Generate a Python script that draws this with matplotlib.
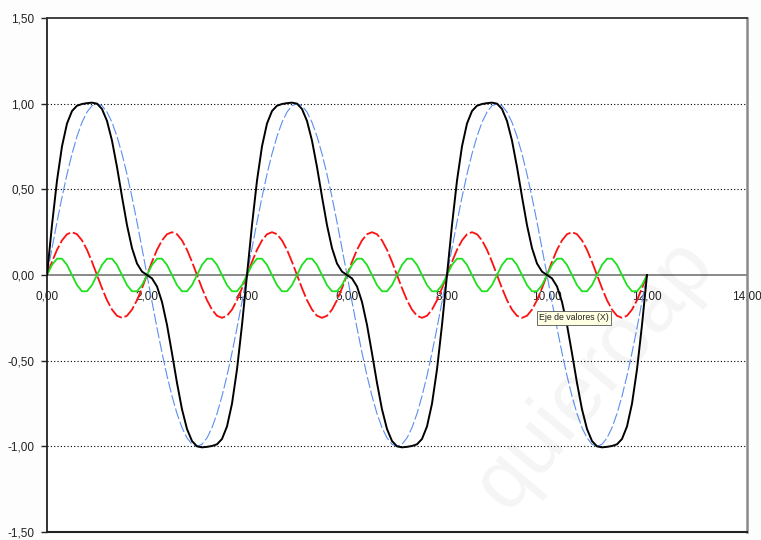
import numpy as np
import matplotlib
matplotlib.use("Agg")
import matplotlib.pyplot as plt

plt.rcParams["font.family"] = ["Liberation Sans", "DejaVu Sans"]

# Sample positions on the value axis (X), step 0,1
x_vals = np.linspace(0, 12, 121)

# Series, one row per unit of X
blue_vals = [
    0.000, 0.156, 0.309, 0.454, 0.588, 0.707, 0.809, 0.891, 0.951, 0.988,
    1.000, 0.988, 0.951, 0.891, 0.809, 0.707, 0.588, 0.454, 0.309, 0.156,
    0.000, -0.156, -0.309, -0.454, -0.588, -0.707, -0.809, -0.891, -0.951, -0.988,
    -1.000, -0.988, -0.951, -0.891, -0.809, -0.707, -0.588, -0.454, -0.309, -0.156,
    0.000, 0.156, 0.309, 0.454, 0.588, 0.707, 0.809, 0.891, 0.951, 0.988,
    1.000, 0.988, 0.951, 0.891, 0.809, 0.707, 0.588, 0.454, 0.309, 0.156,
    0.000, -0.156, -0.309, -0.454, -0.588, -0.707, -0.809, -0.891, -0.951, -0.988,
    -1.000, -0.988, -0.951, -0.891, -0.809, -0.707, -0.588, -0.454, -0.309, -0.156,
    0.000, 0.156, 0.309, 0.454, 0.588, 0.707, 0.809, 0.891, 0.951, 0.988,
    1.000, 0.988, 0.951, 0.891, 0.809, 0.707, 0.588, 0.454, 0.309, 0.156,
    0.000, -0.156, -0.309, -0.454, -0.588, -0.707, -0.809, -0.891, -0.951, -0.988,
    -1.000, -0.988, -0.951, -0.891, -0.809, -0.707, -0.588, -0.454, -0.309, -0.156,
    0.000,
]

red_vals = [
    0.000, 0.077, 0.147, 0.202, 0.238, 0.250, 0.238, 0.202, 0.147, 0.077,
    0.000, -0.077, -0.147, -0.202, -0.238, -0.250, -0.238, -0.202, -0.147, -0.077,
    0.000, 0.077, 0.147, 0.202, 0.238, 0.250, 0.238, 0.202, 0.147, 0.077,
    0.000, -0.077, -0.147, -0.202, -0.238, -0.250, -0.238, -0.202, -0.147, -0.077,
    0.000, 0.077, 0.147, 0.202, 0.238, 0.250, 0.238, 0.202, 0.147, 0.077,
    0.000, -0.077, -0.147, -0.202, -0.238, -0.250, -0.238, -0.202, -0.147, -0.077,
    0.000, 0.077, 0.147, 0.202, 0.238, 0.250, 0.238, 0.202, 0.147, 0.077,
    0.000, -0.077, -0.147, -0.202, -0.238, -0.250, -0.238, -0.202, -0.147, -0.077,
    0.000, 0.077, 0.147, 0.202, 0.238, 0.250, 0.238, 0.202, 0.147, 0.077,
    0.000, -0.077, -0.147, -0.202, -0.238, -0.250, -0.238, -0.202, -0.147, -0.077,
    0.000, 0.077, 0.147, 0.202, 0.238, 0.250, 0.238, 0.202, 0.147, 0.077,
    0.000, -0.077, -0.147, -0.202, -0.238, -0.250, -0.238, -0.202, -0.147, -0.077,
    0.000,
]

green_vals = [
    0.000, 0.059, 0.095, 0.095, 0.059, 0.000, -0.059, -0.095, -0.095, -0.059,
    0.000, 0.059, 0.095, 0.095, 0.059, 0.000, -0.059, -0.095, -0.095, -0.059,
    0.000, 0.059, 0.095, 0.095, 0.059, 0.000, -0.059, -0.095, -0.095, -0.059,
    0.000, 0.059, 0.095, 0.095, 0.059, 0.000, -0.059, -0.095, -0.095, -0.059,
    0.000, 0.059, 0.095, 0.095, 0.059, 0.000, -0.059, -0.095, -0.095, -0.059,
    0.000, 0.059, 0.095, 0.095, 0.059, 0.000, -0.059, -0.095, -0.095, -0.059,
    0.000, 0.059, 0.095, 0.095, 0.059, 0.000, -0.059, -0.095, -0.095, -0.059,
    0.000, 0.059, 0.095, 0.095, 0.059, 0.000, -0.059, -0.095, -0.095, -0.059,
    0.000, 0.059, 0.095, 0.095, 0.059, 0.000, -0.059, -0.095, -0.095, -0.059,
    0.000, 0.059, 0.095, 0.095, 0.059, 0.000, -0.059, -0.095, -0.095, -0.059,
    0.000, 0.059, 0.095, 0.095, 0.059, 0.000, -0.059, -0.095, -0.095, -0.059,
    0.000, 0.059, 0.095, 0.095, 0.059, 0.000, -0.059, -0.095, -0.095, -0.059,
    0.000,
]

black_vals = [
    0.000, 0.292, 0.551, 0.751, 0.884, 0.957, 0.988, 0.998, 1.003, 1.006,
    1.000, 0.969, 0.899, 0.784, 0.630, 0.457, 0.291, 0.157, 0.067, 0.020,
    0.000, -0.020, -0.067, -0.157, -0.291, -0.457, -0.630, -0.784, -0.899, -0.969,
    -1.000, -1.006, -1.003, -0.998, -0.988, -0.957, -0.884, -0.751, -0.551, -0.292,
    0.000, 0.292, 0.551, 0.751, 0.884, 0.957, 0.988, 0.998, 1.003, 1.006,
    1.000, 0.969, 0.899, 0.784, 0.630, 0.457, 0.291, 0.157, 0.067, 0.020,
    0.000, -0.020, -0.067, -0.157, -0.291, -0.457, -0.630, -0.784, -0.899, -0.969,
    -1.000, -1.006, -1.003, -0.998, -0.988, -0.957, -0.884, -0.751, -0.551, -0.292,
    0.000, 0.292, 0.551, 0.751, 0.884, 0.957, 0.988, 0.998, 1.003, 1.006,
    1.000, 0.969, 0.899, 0.784, 0.630, 0.457, 0.291, 0.157, 0.067, 0.020,
    0.000, -0.020, -0.067, -0.157, -0.291, -0.457, -0.630, -0.784, -0.899, -0.969,
    -1.000, -1.006, -1.003, -0.998, -0.988, -0.957, -0.884, -0.751, -0.551, -0.292,
    0.000,
]

x_ticks = [0, 2, 4, 6, 8, 10, 12, 14]
y_ticks = [-1.5, -1.0, -0.5, 0.0, 0.5, 1.0, 1.5]
grid_levels = [-1.0, -0.5, 0.5, 1.0]

fig = plt.figure(figsize=(7.61, 5.40), dpi=100, facecolor="#fdfdfd")
ax = fig.add_axes([47 / 761, 1 - 532 / 540, 700 / 761, 514 / 540])
ax.set_facecolor("white")

# dotted gridlines
for g in grid_levels:
    ax.axhline(g, color="black", lw=0.8, ls=(0, (1, 2)), zorder=1)

# series
ax.plot(x_vals, blue_vals, color="#5b8ef0", lw=0.8, ls=(0, (10, 2.5)), zorder=3)
ax.plot(x_vals, red_vals, color="#ff1010", lw=1.3, ls=(0, (8, 1.6)), zorder=3)
ax.plot(x_vals, green_vals, color="#1ee01e", lw=1.3, zorder=3)
ax.plot(x_vals, black_vals, color="black", lw=1.4, zorder=4)

ax.set_xlim(0, 14)
ax.set_ylim(-1.5, 1.5)

# x axis crosses at y = 0
ax.spines["bottom"].set_position(("data", 0))
ax.spines["bottom"].set_color("#808080")
ax.spines["bottom"].set_linewidth(1.3)
ax.spines["bottom"].set_zorder(2)
ax.axhline(-1.5, color="#222222", lw=1.5, clip_on=False, zorder=5)
ax.spines["left"].set_color("#222222")
ax.spines["left"].set_linewidth(1.3)
ax.spines["top"].set_color("#333333")
ax.spines["top"].set_linewidth(1.3)
ax.spines["right"].set_color("#8a8a8a")
ax.spines["right"].set_linewidth(1.8)

ax.set_xticks(x_ticks)
ax.set_xticklabels([f"{v:.2f}".replace(".", ",") for v in x_ticks])
ax.set_yticks(y_ticks)
ax.set_yticklabels([f"{v:.2f}".replace(".", ",") for v in y_ticks])
ax.tick_params(axis="x", length=0, pad=11, labelsize=8.5, labelcolor="#222222")
ax.tick_params(axis="y", length=4, width=1, direction="out", pad=5,
               labelsize=8.5, labelcolor="#222222", color="#222222")
for lbl in ax.get_xticklabels():
    lbl.set_zorder(6)

# tooltip left on the screenshot
fig.text(539 / 761, 1 - 318 / 540, "Eje de valores (X)", fontsize=6.3,
         ha="left", va="center", color="#222222", zorder=10,
         bbox=dict(boxstyle="square,pad=0.25", fc="#ffffe1", ec="#555555", lw=0.6))

# faint watermark
fig.text(595 / 761, 1 - 375 / 540, "quieroap", fontsize=60, rotation=50,
         ha="center", va="center", color="#000000", alpha=0.045, zorder=8)

fig.savefig("out.png", dpi=100, facecolor=fig.get_facecolor())
